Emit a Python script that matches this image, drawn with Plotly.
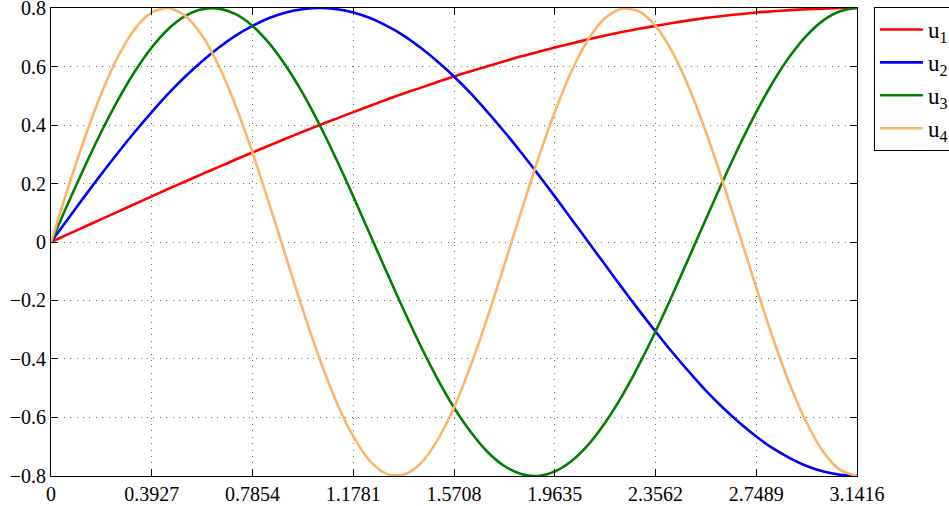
import plotly.graph_objects as go

x_vals = [0.0, 0.0654, 0.1309, 0.1963, 0.2618, 0.3272, 0.3927, 0.4581, 0.5236, 0.5890,
          0.6545, 0.7199, 0.7854, 0.8508, 0.9163, 0.9817, 1.0472, 1.1126, 1.1781, 1.2435,
          1.3090, 1.3744, 1.4399, 1.5053, 1.5708, 1.6362, 1.7017, 1.7671, 1.8326, 1.8980,
          1.9635, 2.0289, 2.0944, 2.1598, 2.2253, 2.2907, 2.3562, 2.4216, 2.4871, 2.5525,
          2.6180, 2.6834, 2.7489, 2.8143, 2.8798, 2.9452, 3.0107, 3.0761, 3.1416]

u1 = [0.000, 0.026, 0.052, 0.078, 0.104, 0.130, 0.156, 0.182, 0.207, 0.232,
      0.257, 0.282, 0.306, 0.330, 0.354, 0.377, 0.400, 0.422, 0.444, 0.466,
      0.487, 0.508, 0.527, 0.547, 0.566, 0.584, 0.601, 0.618, 0.635, 0.650,
      0.665, 0.679, 0.693, 0.706, 0.718, 0.729, 0.739, 0.749, 0.758, 0.766,
      0.773, 0.779, 0.785, 0.789, 0.793, 0.796, 0.798, 0.800, 0.800]
u2 = [0.000, 0.078, 0.156, 0.232, 0.306, 0.377, 0.444, 0.508, 0.566, 0.618,
      0.665, 0.706, 0.739, 0.766, 0.785, 0.796, 0.800, 0.796, 0.785, 0.766,
      0.739, 0.706, 0.665, 0.618, 0.566, 0.508, 0.444, 0.377, 0.306, 0.232,
      0.156, 0.078, 0.000, -0.078, -0.156, -0.232, -0.306, -0.377, -0.444, -0.508,
      -0.566, -0.618, -0.665, -0.706, -0.739, -0.766, -0.785, -0.796, -0.800]
u3 = [0.000, 0.130, 0.257, 0.377, 0.487, 0.584, 0.665, 0.729, 0.773, 0.796,
      0.798, 0.779, 0.739, 0.679, 0.601, 0.508, 0.400, 0.282, 0.156, 0.026,
      -0.104, -0.232, -0.354, -0.466, -0.566, -0.650, -0.718, -0.766, -0.793, -0.800,
      -0.785, -0.749, -0.693, -0.618, -0.527, -0.422, -0.306, -0.182, -0.052, 0.078,
      0.207, 0.330, 0.444, 0.547, 0.635, 0.706, 0.758, 0.789, 0.800]
u4 = [0.000, 0.182, 0.354, 0.508, 0.635, 0.729, 0.785, 0.800, 0.773, 0.706,
      0.601, 0.466, 0.306, 0.130, -0.052, -0.232, -0.400, -0.547, -0.665, -0.749,
      -0.793, -0.796, -0.758, -0.679, -0.566, -0.422, -0.257, -0.078, 0.104, 0.282,
      0.444, 0.584, 0.693, 0.766, 0.798, 0.789, 0.739, 0.650, 0.527, 0.377,
      0.207, 0.026, -0.156, -0.330, -0.487, -0.618, -0.718, -0.779, -0.800]

series_names = ["u<sub>1</sub>", "u<sub>2</sub>", "u<sub>3</sub>", "u<sub>4</sub>"]
series_colors = ["#ff0000", "#0000ff", "#008000", "#ffb366"]

x_tick_vals = [0.0, 0.3927, 0.7854, 1.1781, 1.5708, 1.9635, 2.3562, 2.7489, 3.1416]
x_tick_text = ["0", "0.3927", "0.7854", "1.1781", "1.5708", "1.9635", "2.3562", "2.7489", "3.1416"]
y_tick_vals = [-0.8, -0.6, -0.4, -0.2, 0.0, 0.2, 0.4, 0.6, 0.8]
y_tick_text = ["\u22120.8", "\u22120.6", "\u22120.4", "\u22120.2", "0", "0.2", "0.4", "0.6", "0.8"]

font_family = "Liberation Serif"

fig = go.Figure()
for ys, name, color in zip([u1, u2, u3, u4], series_names, series_colors):
    fig.add_trace(go.Scatter(x=x_vals, y=ys, mode="lines", name=name,
                             line=dict(color=color, width=2.6, shape="spline", smoothing=0.8)))

axis_common = dict(showline=True, linecolor="black", linewidth=1, mirror="ticks",
                   ticks="inside", ticklen=7, tickcolor="black", tickwidth=1,
                   showgrid=True, gridcolor="#6a6a6a", gridwidth=1, griddash="1px,5.4px",
                   zeroline=False, ticklabeloverflow="allow",
                   tickfont=dict(family=font_family, size=20, color="black"))

fig.update_xaxes(range=[0, 3.1416], tickmode="array", tickvals=x_tick_vals,
                 ticktext=x_tick_text, **axis_common)
fig.update_yaxes(range=[-0.8002, 0.8002], tickmode="array", tickvals=y_tick_vals,
                 ticktext=y_tick_text, **axis_common)

fig.update_layout(
    width=949, height=506,
    margin=dict(l=51, r=92, t=8, b=30, autoexpand=False),
    paper_bgcolor="white", plot_bgcolor="white",
    font=dict(family=font_family, size=20, color="black"),
    showlegend=True,
    legend=dict(x=1.021, y=1.002, xanchor="left", yanchor="top",
                bgcolor="white", bordercolor="black", borderwidth=1,
                font=dict(family=font_family, size=23, color="black"),
                itemwidth=43, tracegroupgap=0),
)

fig.write_html("out.html")
